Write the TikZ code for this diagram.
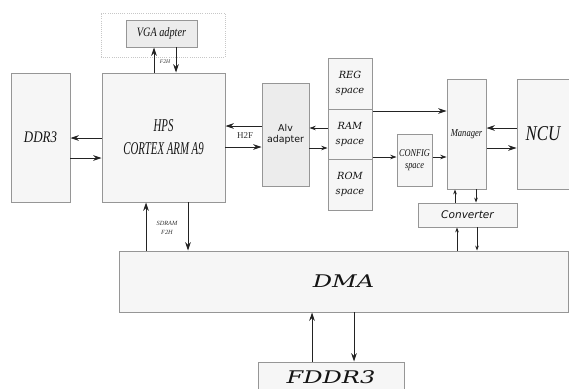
\documentclass[tikz,border=0pt]{standalone}
\usepackage{fontspec}
\setmainfont{Liberation Serif}
\newfontfamily\narrowserif[FakeStretch=0.8]{Liberation Serif}
\newfontfamily\tightserif[FakeStretch=0.6]{Liberation Serif}
\newfontfamily\wideserif[FakeStretch=1.38]{DejaVu Serif}
\newfontfamily\bookserif{DejaVu Serif}
\newfontfamily\bodysans{DejaVu Sans}
\usetikzlibrary{arrows.meta,positioning}
\definecolor{blockfill}{RGB}{246,246,246}
\definecolor{blockdark}{RGB}{236,236,236}
\definecolor{blockedge}{RGB}{150,150,150}
\definecolor{wiregray}{RGB}{35,35,35}
\tikzset{
  blockbox/.style={
    rectangle,
    draw=blockedge,
    fill=blockfill,
    line width=0.7pt,
    inner sep=0pt,
    align=center,
    text=black!92
  },
  boxsize/.style 2 args={
    minimum width=#1*0.025cm,
    minimum height=#2*0.025cm
  },
  blockarrow/.style={
    -{Stealth[length=6pt,width=4pt]},
    draw=wiregray,
    line width=0.6pt
  },
  midarrow/.style={
    -{Stealth[length=4.5pt,width=3.2pt]},
    draw=wiregray,
    line width=0.5pt
  },
  smallarrow/.style={
    -{Stealth[length=3.5pt,width=2.6pt]},
    draw=wiregray,
    line width=0.5pt
  },
  wirelabel/.style={
    inner sep=0pt,
    align=center,
    text=black!80
  }
}

\begin{document}
\begin{tikzpicture}[x=0.025cm, y=-0.025cm]
\useasboundingbox (0,0) rectangle (569,388);

% display adapter on top
\node[blockbox, draw=black!22, fill=white, line width=0.5pt, densely dotted, boxsize={124}{44}] (vgazone) at (163,35) {};
\node[blockbox, fill=blockdark, boxsize={71}{27},
      font=\narrowserif\itshape\fontsize{9.1}{10}\selectfont] (vga) at (161.5,33.5) {VGA adpter};

% processor and its memory
\node[blockbox, boxsize={123}{129},
      font=\tightserif\itshape\fontsize{12.8}{16.4}\selectfont] (hps) at (163.5,137.5) {HPS\\CORTEX ARM A9};
\node[blockbox, boxsize={59}{129},
      font=\narrowserif\itshape\fontsize{11.5}{13}\selectfont] (ddr) at (40.5,137.5) {DDR3};

% bridge and address spaces
\node[blockbox, fill=blockdark, boxsize={47}{103},
      font=\bodysans\fontsize{6.7}{7.8}\selectfont] (alv) at (285.5,134.5) {Alv\\adapter};
\node[blockbox, boxsize={44}{51},
      font=\bookserif\itshape\fontsize{7}{10.7}\selectfont] (reg) at (350,83.5) {REG\\space};
\node[blockbox, boxsize={44}{50},
      font=\bookserif\itshape\fontsize{7}{10.7}\selectfont] (ram) at (350,134) {RAM\\space};
\node[blockbox, boxsize={44}{51},
      font=\bookserif\itshape\fontsize{7}{10.7}\selectfont] (rom) at (350,184.5) {ROM\\space};
\node[blockbox, boxsize={35}{52},
      font=\narrowserif\itshape\fontsize{7.4}{9}\selectfont] (config) at (414.5,160) {CONFIG\\space};

% control side
\node[blockbox, boxsize={39}{110},
      font=\narrowserif\itshape\fontsize{7.6}{9}\selectfont] (mgr) at (466.5,134) {Manager};
\node[blockbox, boxsize={52}{110},
      font=\narrowserif\itshape\fontsize{15}{17}\selectfont] (ncu) at (543,134) {NCU};
\node[blockbox, boxsize={99}{24},
      font=\bodysans\itshape\fontsize{7.5}{9}\selectfont] (conv) at (467.5,215) {Converter};

% transfer engine and external memory
\node[blockbox, boxsize={449}{61},
      font=\wideserif\itshape\fontsize{12.4}{14}\selectfont] (dma) at (343.5,281.5) {DMA};
\node[blockbox, boxsize={146}{30},
      font=\wideserif\itshape\fontsize{12.4}{14}\selectfont] (fddr) at (331,377) {FDDR3};

% labels
\node[wirelabel, font=\itshape\fontsize{4}{5}\selectfont] (f2htop) at (165,62) {F2H};
\node[wirelabel, font=\fontsize{6.4}{7}\selectfont] (h2f) at (245,136) {H2F};
\node[wirelabel, font=\itshape\fontsize{4.5}{6.4}\selectfont] (sdram) at (167,227.5) {SDRAM\\F2H};

% connectors
\draw[blockarrow] (hps.north -| 154,0) -- (vga.south -| 154,0);
\draw[blockarrow] (vga.south -| 176,0) -- (hps.north -| 176,0);
\draw[blockarrow] (hps.west |- 0,138) -- (ddr.east |- 0,138);
\draw[blockarrow] (ddr.east |- 0,158) -- (hps.west |- 0,158);
\draw[blockarrow] (alv.west |- 0,126) -- (hps.east |- 0,126);
\draw[blockarrow] (hps.east |- 0,147) -- (alv.west |- 0,147);
\draw[midarrow] (ram.west |- 0,128) -- (alv.east |- 0,128);
\draw[midarrow] (alv.east |- 0,148) -- (ram.west |- 0,148);
\draw[blockarrow] (ram.east |- 0,111) -- (mgr.west |- 0,111);
\draw[midarrow] (ram.east |- 0,157) -- (config.west |- 0,157);
\draw[midarrow] (config.east |- 0,157) -- (mgr.west |- 0,157);
\draw[blockarrow] (ncu.west |- 0,128) -- (mgr.east |- 0,128);
\draw[blockarrow] (mgr.east |- 0,148) -- (ncu.west |- 0,148);
\draw[smallarrow] (conv.north -| 455,0) -- (mgr.south -| 455,0);
\draw[smallarrow] (mgr.south -| 476,0) -- (conv.north -| 476,0);
\draw[smallarrow] (dma.north -| 457,0) -- (conv.south -| 457,0);
\draw[smallarrow] (conv.south -| 477,0) -- (dma.north -| 477,0);
\draw[blockarrow] (dma.north -| 146,0) -- (hps.south -| 146,0);
\draw[blockarrow] (hps.south -| 188,0) -- (dma.north -| 188,0);
\draw[blockarrow] (fddr.north -| 312,0) -- (dma.south -| 312,0);
\draw[blockarrow] (dma.south -| 354,0) -- (fddr.north -| 354,0);
\end{tikzpicture}
\end{document}
